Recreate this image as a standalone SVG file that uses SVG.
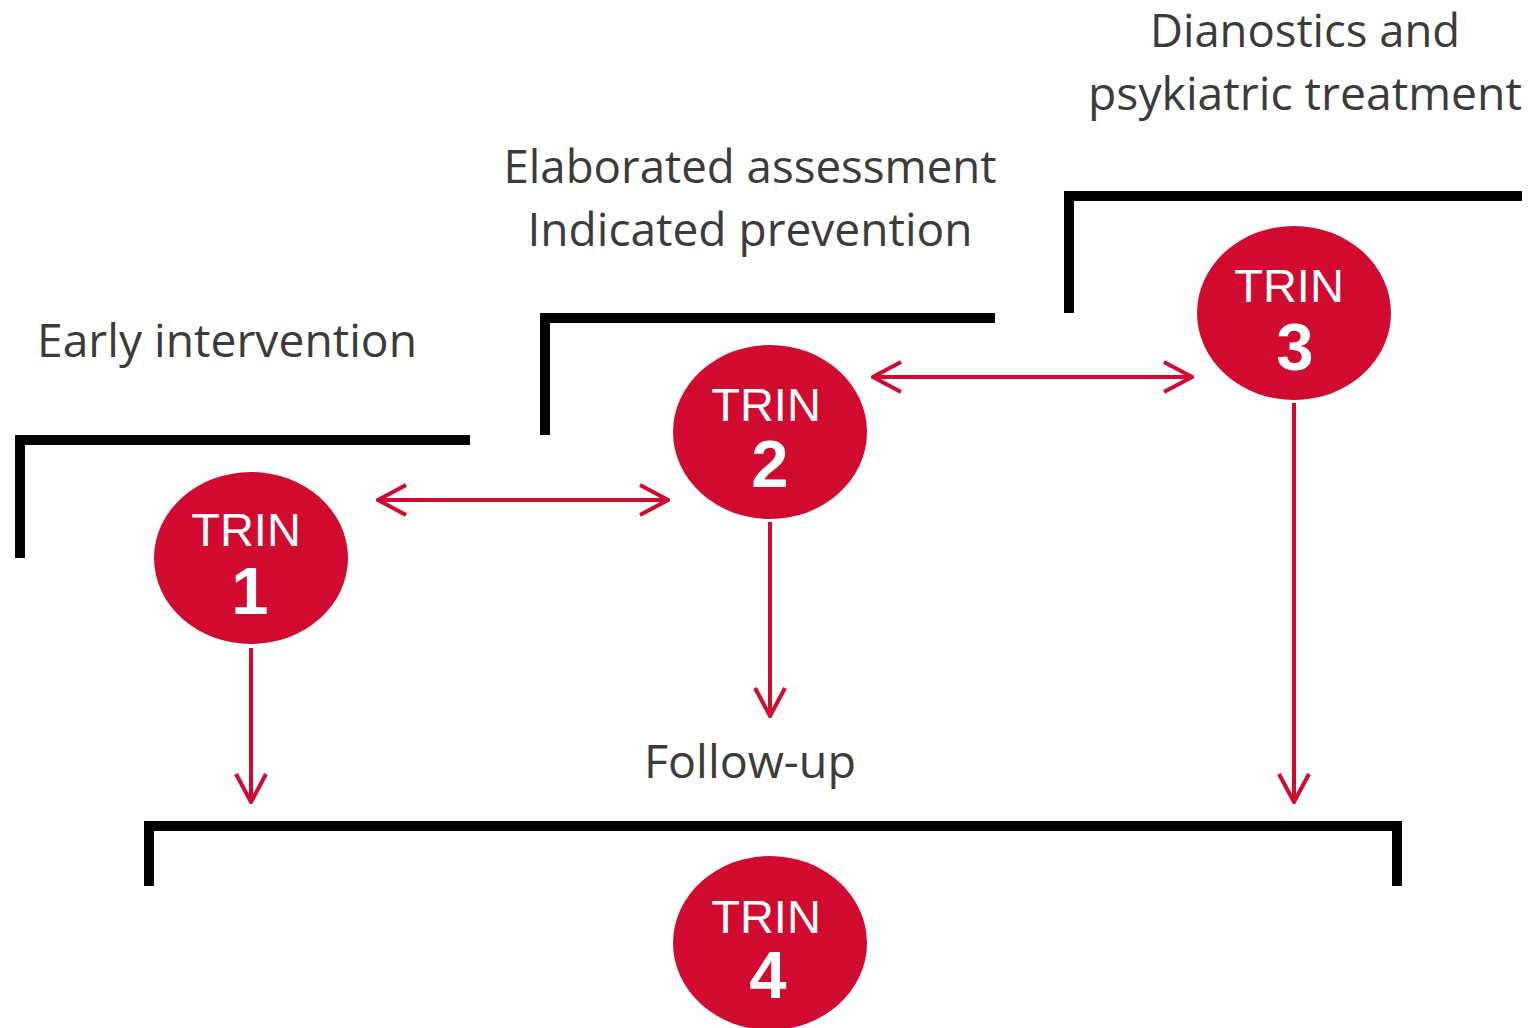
<svg xmlns="http://www.w3.org/2000/svg" width="1532" height="1028" viewBox="0 0 1532 1028">
<style>
.lbl{font-family:"Open Sans","Noto Sans",sans-serif;font-size:45px;fill:#3b3b3b}
.bracket{fill:none;stroke:#000;stroke-width:10;stroke-linecap:butt;stroke-linejoin:miter}
.node{fill:#d10a30}
.trin{font-family:"Liberation Sans",Arial,sans-serif;font-size:47px;fill:#fff;text-anchor:middle}
.num{font-family:"Liberation Sans",Arial,sans-serif;font-size:67px;font-weight:bold;fill:#fff;text-anchor:middle}
.conn{fill:none;stroke:#d10a30;stroke-width:4}
</style>
<defs>
<marker id="ah" viewBox="0 0 32 34" refX="30" refY="17" markerWidth="32" markerHeight="34" markerUnits="userSpaceOnUse" orient="auto-start-reverse">
<path d="M2,2 L30,17 L2,32" fill="none" stroke="#d10a30" stroke-width="4" stroke-linejoin="miter"/>
</marker>
</defs>
<rect width="1532" height="1028" fill="#fff"/>
<g id="brackets">
<path class="bracket" d="M20,558 V440 H470"/>
<path class="bracket" d="M545,435 V318 H995"/>
<path class="bracket" d="M1069,313 V196 H1522"/>
<path class="bracket" d="M149,886 V826 H1397 V886"/>
</g>
<g id="labels">
<text class="lbl" x="1305" y="47" text-anchor="middle" textLength="310" lengthAdjust="spacingAndGlyphs">Dianostics and</text>
<text class="lbl" x="1305" y="110" text-anchor="middle" textLength="434" lengthAdjust="spacingAndGlyphs">psykiatric treatment</text>
<text class="lbl" x="750" y="183" text-anchor="middle" textLength="493" lengthAdjust="spacingAndGlyphs">Elaborated assessment</text>
<text class="lbl" x="750" y="246" text-anchor="middle" textLength="445" lengthAdjust="spacingAndGlyphs">Indicated prevention</text>
<text class="lbl" x="37" y="357" textLength="380" lengthAdjust="spacingAndGlyphs">Early intervention</text>
<text class="lbl" x="750" y="778" text-anchor="middle" textLength="212" lengthAdjust="spacingAndGlyphs">Follow-up</text>
</g>
<g id="connectors">
<line class="conn" x1="378" y1="500" x2="668" y2="500" marker-start="url(#ah)" marker-end="url(#ah)"/>
<line class="conn" x1="873" y1="377" x2="1192" y2="377" marker-start="url(#ah)" marker-end="url(#ah)"/>
<line class="conn" x1="251" y1="648" x2="251" y2="802" marker-end="url(#ah)"/>
<line class="conn" x1="770" y1="522" x2="770" y2="716" marker-end="url(#ah)"/>
<line class="conn" x1="1294" y1="403" x2="1294" y2="802" marker-end="url(#ah)"/>
</g>
<g id="trin1">
<ellipse class="node" cx="251" cy="558" rx="97" ry="86"/>
<text class="trin" x="246" y="546">TRIN</text>
<text class="num" x="250" y="614">1</text>
</g>
<g id="trin2">
<ellipse class="node" cx="770" cy="432" rx="97" ry="87"/>
<text class="trin" x="766" y="421">TRIN</text>
<text class="num" x="770" y="487">2</text>
</g>
<g id="trin3">
<ellipse class="node" cx="1294" cy="313" rx="97" ry="87"/>
<text class="trin" x="1289" y="302">TRIN</text>
<text class="num" x="1295" y="370">3</text>
</g>
<g id="trin4">
<ellipse class="node" cx="770" cy="943" rx="97" ry="87"/>
<text class="trin" x="766" y="933">TRIN</text>
<text class="num" x="768" y="998">4</text>
</g>
</svg>
